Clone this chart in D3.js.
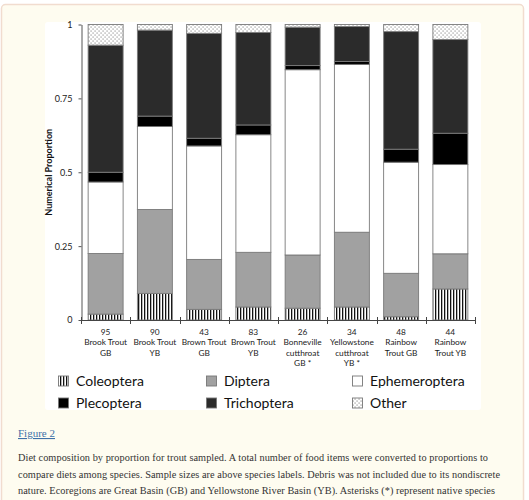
<!DOCTYPE html>
<html>
<head>
<meta charset="utf-8">
<script src="https://cdn.jsdelivr.net/npm/d3@7/dist/d3.min.js"></script>
<style>
  html, body { margin: 0; padding: 0; background: #ffffff; }
  svg { display: block; }
</style>
</head>
<body>
<svg id="chart" width="529" height="500"></svg>
<script>
// ---------------- DATA ----------------
const sampleSizes = ["95", "90", "43", "83", "26", "34", "48", "44"];
const speciesLabels = [
  ["Brook Trout", "GB"],
  ["Brook Trout", "YB"],
  ["Brown Trout", "GB"],
  ["Brown Trout", "YB"],
  ["Bonneville", "cutthroat", "GB *"],
  ["Yellowstone", "cutthroat", "YB *"],
  ["Rainbow", "Trout GB"],
  ["Rainbow", "Trout YB"]
];
const categories = ["BTGB", "BTYB", "BrGB", "BrYB", "BCGB", "YCYB", "RTGB", "RTYB"];
const seriesNames = ["Coleoptera", "Diptera", "Ephemeroptera", "Plecoptera", "Trichoptera", "Other"];
const coleoptera    = [0.020, 0.090, 0.036, 0.044, 0.040, 0.044, 0.011, 0.105];
const diptera       = [0.205, 0.284, 0.169, 0.185, 0.180, 0.253, 0.147, 0.119];
const ephemeroptera = [0.242, 0.281, 0.384, 0.398, 0.627, 0.568, 0.376, 0.302];
const plecoptera    = [0.033, 0.035, 0.026, 0.033, 0.014, 0.010, 0.044, 0.106];
const trichoptera   = [0.430, 0.291, 0.355, 0.313, 0.130, 0.118, 0.398, 0.317];
const other         = [0.070, 0.019, 0.030, 0.027, 0.009, 0.007, 0.024, 0.051];
const yTicks = [0, 0.25, 0.5, 0.75, 1];
const yTickLabels = ["0", "0.25", "0.5", "0.75", "1"];
const yAxisTitle = "Numerical Proportion";
const figureLink = "Figure 2";
const captionLines = [
  "Diet composition by proportion for trout sampled. A total number of food items were converted to proportions to",
  "compare diets among species. Sample sizes are above species labels. Debris was not included due to its nondiscrete",
  "nature. Ecoregions are Great Basin (GB) and Yellowstone River Basin (YB). Asterisks (*) represent native species"
];

// ---------------- BUILD TABLE ----------------
const seriesArrays = [coleoptera, diptera, ephemeroptera, plecoptera, trichoptera, other];
const table = categories.map((c, i) => {
  const row = { cat: c };
  seriesNames.forEach((s, j) => row[s] = seriesArrays[j][i]);
  return row;
});
const stacked = d3.stack().keys(seriesNames)(table);

// ---------------- DRAW ----------------
const svg = d3.select("#chart");
const defs = svg.append("defs");

// patterns
const pStripe = defs.append("pattern").attr("id", "stripes")
  .attr("patternUnits", "userSpaceOnUse").attr("width", 3).attr("height", 6);
pStripe.append("rect").attr("width", 3).attr("height", 6).attr("fill", "#ffffff");
pStripe.append("rect").attr("x", 0).attr("width", 1.3).attr("height", 6).attr("fill", "#111");

const pDots = defs.append("pattern").attr("id", "dots")
  .attr("patternUnits", "userSpaceOnUse").attr("width", 4).attr("height", 4);
pDots.append("rect").attr("width", 4).attr("height", 4).attr("fill", "#ffffff");
pDots.append("rect").attr("x", 0.6).attr("y", 0.6).attr("width", 0.9).attr("height", 0.9).attr("fill", "#444");
pDots.append("rect").attr("x", 2.6).attr("y", 2.6).attr("width", 0.9).attr("height", 0.9).attr("fill", "#444");

const fills = {
  Coleoptera: "url(#stripes)",
  Diptera: "#a1a1a1",
  Ephemeroptera: "#ffffff",
  Plecoptera: "#000000",
  Trichoptera: "#2b2b2b",
  Other: "url(#dots)"
};

// page background box
svg.append("rect").attr("x", 1.5).attr("y", 4.5).attr("width", 522).attr("height", 510)
  .attr("rx", 4).attr("fill", "#fefcf0").attr("stroke", "#f1dccf").attr("stroke-width", 1.5);

// white chart panel
svg.append("rect").attr("x", 45).attr("y", 22).attr("width", 436).attr("height", 388)
  .attr("rx", 3).attr("fill", "#ffffff");

const fontChart = "Lato, 'Open Sans', sans-serif";

const x = d3.scaleBand().domain(categories).range([81, 475])
  .paddingInner(0.29).paddingOuter(0.145);
const y = d3.scaleLinear().domain([0, 1]).range([320, 24.5]);

// bars
const layers = svg.append("g").selectAll("g").data(stacked).join("g")
  .attr("fill", d => fills[d.key]);
layers.selectAll("rect").data(d => d).join("rect")
  .attr("x", d => x(d.data.cat))
  .attr("y", d => y(d[1]))
  .attr("width", x.bandwidth())
  .attr("height", d => Math.max(0, y(d[0]) - y(d[1])))
  .attr("stroke", "#7a7a7a").attr("stroke-width", 0.9);

// y axis
const yAxis = d3.axisLeft(y).tickValues(yTicks)
  .tickFormat((d, i) => yTickLabels[i]).tickSize(3).tickSizeOuter(0).tickPadding(6);
const gy = svg.append("g").attr("transform", "translate(81.5,0)").call(yAxis);
gy.select(".domain").attr("stroke", "#555");
gy.selectAll(".tick line").attr("stroke", "#555");
gy.selectAll("text").attr("font-family", fontChart).attr("font-size", 9).attr("fill", "#222");

// x axis
const step = x.step();
const xAxisG = svg.append("g");
xAxisG.append("line").attr("x1", 81).attr("x2", 475).attr("y1", 320.5).attr("y2", 320.5)
  .attr("stroke", "#444").attr("stroke-width", 1.2);
const boundaries = categories.map(c => x(c) - step * x.paddingInner() / 2).concat([475]);
xAxisG.selectAll("line.tk").data(boundaries).join("line").attr("class", "tk")
  .attr("x1", d => Math.round(d) + 0.5).attr("x2", d => Math.round(d) + 0.5)
  .attr("y1", 317).attr("y2", 324).attr("stroke", "#444");

// x labels
const xl = svg.append("g").attr("font-family", fontChart).attr("font-size", 8.3)
  .attr("fill", "#222").attr("text-anchor", "middle");
categories.forEach((c, i) => {
  const cx = x(c) + x.bandwidth() / 2;
  const lines = [sampleSizes[i]].concat(speciesLabels[i]);
  lines.forEach((t, k) => {
    xl.append("text").attr("x", cx).attr("y", 335 + k * 10.4).text(t);
  });
});

// y title
svg.append("text")
  .attr("transform", "translate(52," + y(0.5) + ") rotate(-90)")
  .attr("text-anchor", "middle")
  .attr("font-family", fontChart).attr("font-size", 9).attr("font-weight", "bold")
  .attr("fill", "#111").text(yAxisTitle);

// legend
const legendPos = [
  [58, 381], [206, 381], [352, 381],
  [58, 403], [206, 403], [352, 403]
];
const lg = svg.append("g");
seriesNames.forEach((s, i) => {
  const [lx, ly] = legendPos[i];
  lg.append("rect").attr("x", lx + 0.5).attr("y", ly - 5).attr("width", 10).attr("height", 10)
    .attr("fill", fills[s]).attr("stroke", "#777").attr("stroke-width", 0.9);
  lg.append("text").attr("x", lx + 18).attr("y", ly + 5)
    .attr("font-family", fontChart).attr("font-size", 14).attr("fill", "#111").text(s);
});

// caption
const fontCap = "'Liberation Serif', 'DejaVu Serif', serif";
svg.append("text").attr("x", 18).attr("y", 437)
  .attr("font-family", fontCap).attr("font-size", 11).attr("fill", "#3e71a8")
  .attr("text-decoration", "underline").text(figureLink);
const capEnds = [488, 500, 495];
captionLines.forEach((t, i) => {
  svg.append("text").attr("x", 18).attr("y", 461 + i * 16.6)
    .attr("font-family", fontCap).attr("font-size", 10.3).attr("fill", "#333")
    .attr("textLength", capEnds[i] - 18).attr("lengthAdjust", "spacing")
    .text(t);
});
</script>
</body>
</html>
